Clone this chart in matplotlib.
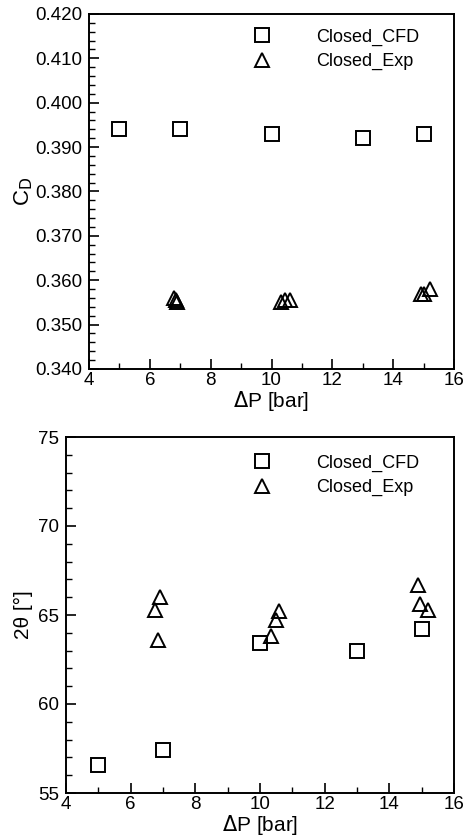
import matplotlib
matplotlib.use("Agg")
import matplotlib.pyplot as plt
from matplotlib.ticker import MultipleLocator, FormatStrFormatter

plt.rcParams['font.family'] = ['Liberation Sans', 'DejaVu Sans']

# top panel: discharge coefficient
cfd_dp = [5, 7, 10, 13, 15]
cfd_cd = [0.394, 0.394, 0.393, 0.392, 0.393]
exp_dp_cd = [6.8, 6.85, 6.9, 10.3, 10.45, 10.6, 14.9, 15.0, 15.2]
exp_cd = [0.356, 0.3555, 0.355, 0.355, 0.3555, 0.3555, 0.357, 0.357, 0.358]

# bottom panel: spray angle
cfd_angle = [56.6, 57.4, 63.4, 63.0, 64.2]
exp_dp_ang = [6.9, 6.75, 6.85, 10.35, 10.5, 10.6, 14.9, 14.95, 15.2]
exp_angle = [66.0, 65.3, 63.6, 63.8, 64.7, 65.2, 66.7, 65.6, 65.3]


def style_axes(ax, fig, top):
    ax.set_xlim(4, 16)
    ax.xaxis.set_major_locator(MultipleLocator(2))
    ax.xaxis.set_minor_locator(MultipleLocator(1))
    ax.tick_params(which='both', direction='in', top=False, right=False,
                   labelsize=13.5)
    ax.tick_params(axis='x', pad=2)
    ax.tick_params(axis='y', pad=5)
    ax.tick_params(which='major', length=7, width=1.2)
    ax.tick_params(which='minor', length=4, width=1.0)
    for s in ax.spines.values():
        s.set_linewidth(1.4)
    ax.set_xlabel(r'$\Delta$P [bar]', fontsize=15, labelpad=0)
    ax.legend(loc='upper right', frameon=False, fontsize=13,
              handletextpad=2.0, borderaxespad=0.3, labelspacing=0.4,
              bbox_to_anchor=(432 / 465, top), bbox_transform=fig.transFigure)


fig = plt.figure(figsize=(4.65, 8.39), dpi=100)
ax1 = fig.add_axes([89 / 465, 1 - 369 / 839, 365 / 465, 355 / 839])
ax2 = fig.add_axes([66 / 465, 1 - 793 / 839, 388 / 465, 356 / 839])

mk = dict(linestyle='none', markerfacecolor='none', markeredgecolor='black',
          markeredgewidth=1.4, markersize=10)

ax1.plot(cfd_dp, cfd_cd, marker='s', label='Closed_CFD', **mk)
ax1.plot(exp_dp_cd, exp_cd, marker='^', label='Closed_Exp', **mk)
ax1.set_ylim(0.340, 0.420)
ax1.yaxis.set_major_locator(MultipleLocator(0.010))
ax1.yaxis.set_minor_locator(MultipleLocator(0.002))
ax1.yaxis.set_major_formatter(FormatStrFormatter('%.3f'))
ax1.set_ylabel(r'C$_\mathrm{D}$', fontsize=16, labelpad=0)
style_axes(ax1, fig, 1 - 16 / 839)

ax2.plot(cfd_dp, cfd_angle, marker='s', label='Closed_CFD', **mk)
ax2.plot(exp_dp_ang, exp_angle, marker='^', label='Closed_Exp', **mk)
ax2.set_ylim(55, 75)
ax2.yaxis.set_major_locator(MultipleLocator(5))
ax2.yaxis.set_minor_locator(MultipleLocator(1))
ax2.set_ylabel('2θ [°]', fontsize=15, labelpad=4)
style_axes(ax2, fig, 1 - 442 / 839)

fig.savefig('out.png', dpi=100)
